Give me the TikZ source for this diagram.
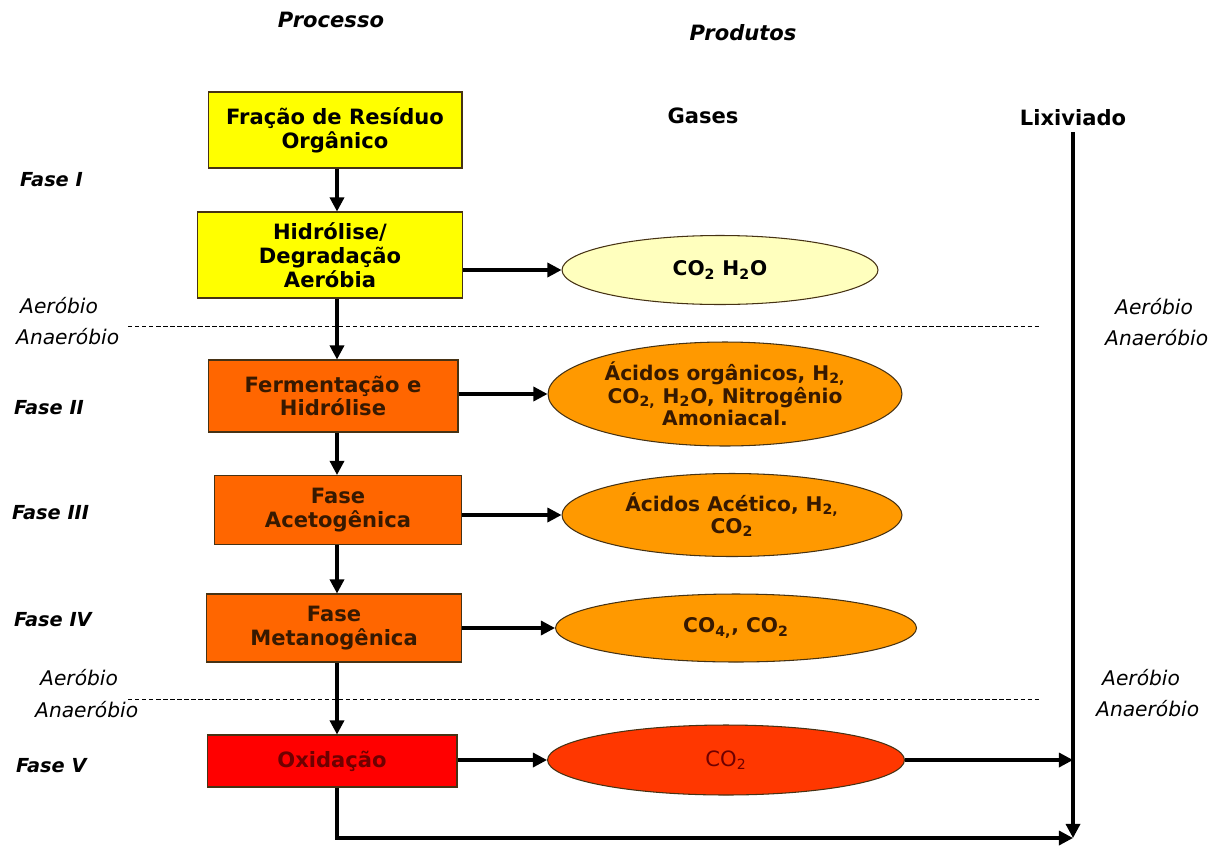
\documentclass[tikz,border=0pt]{standalone}
\usepackage{fontspec}
\setmainfont{DejaVu Sans}
\usetikzlibrary{arrows.meta,shapes.geometric}
\definecolor{boxYellow}{RGB}{255,255,0}
\definecolor{boxOrange}{RGB}{255,102,0}
\definecolor{boxRed}{RGB}{255,0,0}
\definecolor{gasPale}{RGB}{255,255,190}
\definecolor{gasOrange}{RGB}{255,153,0}
\definecolor{gasRed}{RGB}{255,55,0}
\definecolor{txtBrown}{RGB}{55,25,0}
\definecolor{txtDarkRed}{RGB}{110,0,0}
\definecolor{edgeDark}{RGB}{70,50,20}

\begin{document}
\begin{tikzpicture}[
  x=0.02cm, y=-0.02cm,
  arr/.style={
    -{Triangle[length=8pt,width=8pt]},
    line width=1.8pt,
  },
  etapa/.style={
    rectangle,
    draw=edgeDark,
    line width=0.6pt,
    align=center,
    inner sep=2pt,
    font=\fontsize{12}{13.5}\selectfont\bfseries,
  },
  gas/.style={
    ellipse,
    draw=edgeDark,
    line width=0.6pt,
    align=center,
    inner sep=0pt,
    font=\fontsize{11.5}{11.5}\selectfont\bfseries,
  },
  fase/.style={
    anchor=west,
    font=\fontsize{11}{13}\selectfont\bfseries\itshape,
  },
  meio/.style={
    anchor=west,
    font=\fontsize{11.5}{13}\selectfont\itshape,
  },
  titulo/.style={
    font=\fontsize{12}{13}\selectfont\bfseries\itshape,
  },
]

  \useasboundingbox (0,0) rectangle (1209,845);

  \node[titulo] (proc) at (331,20) {Processo};
  \node[titulo] (prod) at (743,33) {Produtos};
  \node[font=\fontsize{12}{13}\selectfont\bfseries] (gases) at (703,116) {Gases};
  \node[font=\fontsize{12}{13}\selectfont\bfseries] (lix) at (1073,118) {Lixiviado};

  % processo
  \node[etapa, fill=boxYellow, minimum width=5.08cm, minimum height=1.52cm]
    (frac) at (335,130) {Fração de Resíduo\\Orgânico};
  \node[etapa, fill=boxYellow, minimum width=5.3cm, minimum height=1.72cm]
    (hidro) at (330,255) {Hidrólise/\\Degradação\\Aeróbia};
  \node[etapa, fill=boxOrange, text=txtBrown, minimum width=5.0cm, minimum height=1.44cm]
    (ferm) at (333,396) {Fermentação e\\Hidrólise};
  \node[etapa, fill=boxOrange, text=txtBrown, minimum width=4.94cm, minimum height=1.38cm]
    (aceto) at (338,510) {Fase\\Acetogênica};
  \node[etapa, fill=boxOrange, text=txtBrown, minimum width=5.1cm, minimum height=1.36cm]
    (metano) at (334,628) {Fase\\Metanogênica};
  \node[etapa, fill=boxRed, text=txtDarkRed, minimum width=5.0cm, minimum height=1.04cm]
    (oxid) at (332,761) {Oxidação};

  % produtos
  \node[gas, fill=gasPale, minimum width=6.32cm, minimum height=1.38cm]
    (g1) at (720,270) {CO\textsubscript{2} H\textsubscript{2}O};
  \node[gas, fill=gasOrange, text=txtBrown, minimum width=7.08cm, minimum height=2.08cm]
    (g2) at (725,394) {Ácidos orgânicos, H\textsubscript{2,}\\CO\textsubscript{2,} H\textsubscript{2}O, Nitrogênio\\Amoniacal.};
  \node[gas, fill=gasOrange, text=txtBrown, minimum width=6.8cm, minimum height=1.66cm]
    (g3) at (732,515) {Ácidos Acético, H\textsubscript{2,}\\CO\textsubscript{2}};
  \node[gas, fill=gasOrange, text=txtBrown, minimum width=7.22cm, minimum height=1.36cm]
    (g4) at (736,628) {CO\textsubscript{4,}, CO\textsubscript{2}};
  \node[gas, fill=gasRed, text=txtDarkRed, minimum width=7.14cm, minimum height=1.4cm,
        font=\fontsize{12}{13}\selectfont]
    (g5) at (726,760) {CO\textsubscript{2}};

  % fases
  \node[fase] (f1) at (14,180) {Fase I};
  \node[fase] (f2) at (8,408) {Fase II};
  \node[fase] (f3) at (6,513) {Fase III};
  \node[fase] (f4) at (8,620) {Fase IV};
  \node[fase] (f5) at (10,766) {Fase V};

  \node[meio] (aer1) at (14,306) {Aeróbio};
  \node[meio] (ana1) at (10,337) {Anaeróbio};
  \node[meio] (aer2) at (1109,307) {Aeróbio};
  \node[meio] (ana2) at (1099,338) {Anaeróbio};
  \node[meio] (aer3) at (34,678) {Aeróbio};
  \node[meio] (ana3) at (29,710) {Anaeróbio};
  \node[meio] (aer4) at (1096,678) {Aeróbio};
  \node[meio] (ana4) at (1090,709) {Anaeróbio};

  \coordinate (d1a) at (128,326);
  \coordinate (d1b) at (1040,326);
  \coordinate (d2a) at (128,699);
  \coordinate (d2b) at (1040,699);
  \draw[dashed, line width=0.5pt, dash pattern=on 2.5pt off 1.5pt] (d1a) -- (d1b);
  \draw[dashed, line width=0.5pt, dash pattern=on 2.5pt off 1.5pt] (d2a) -- (d2b);

  \coordinate (eixo) at (337,0);
  \draw[arr] (frac.south -| eixo) -- (hidro.north -| eixo);
  \draw[arr] (hidro.south -| eixo) -- (ferm.north -| eixo);
  \draw[arr] (ferm.south -| eixo) -- (aceto.north -| eixo);
  \draw[arr] (aceto.south -| eixo) -- (metano.north -| eixo);
  \draw[arr] (metano.south -| eixo) -- (oxid.north -| eixo);

  \draw[arr] (hidro.east |- g1) -- (g1.west);
  \draw[arr] (ferm.east |- g2) -- (g2.west);
  \draw[arr] (aceto.east |- g3) -- (g3.west);
  \draw[arr] (metano.east |- g4) -- (g4.west);
  \draw[arr] (oxid.east |- g5) -- (g5.west);

  % lixiviado
  \coordinate (lixbot) at (1073,838);
  \draw[arr] (lixbot |- lix.south) -- (lixbot);
  \draw[arr] (g5.east) -- (lixbot |- g5.east);
  \draw[arr] (oxid.south -| eixo) -- (eixo |- lixbot) -- (lixbot);

\end{tikzpicture}
\end{document}
